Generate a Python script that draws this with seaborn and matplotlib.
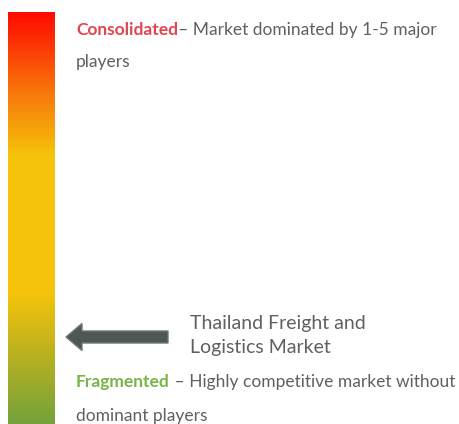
import numpy as np
import pandas as pd
import matplotlib
matplotlib.use("Agg")
import matplotlib.pyplot as plt
import seaborn as sns
from matplotlib.colors import LinearSegmentedColormap
from matplotlib.patches import FancyArrow

sns.set_theme(style="white")
plt.rcParams['font.family'] = ['Lato', 'DejaVu Sans']

# Gradient stops (top -> bottom)
grad_positions = [0.0, 0.2, 0.35, 0.68, 0.8, 1.0]
grad_colors = ["#FF0A00", "#F77A0A", "#F5C40A", "#F5C40A", "#C7B41C", "#74A23A"]

title_top_bold = "Consolidated"
title_top_rest = "– Market dominated by 1-5 major"
title_top_line2 = "players"
market_label = ["Thailand Freight and", "Logistics Market"]
title_bot_bold = "Fragmented"
title_bot_rest = " – Highly competitive market without"
title_bot_line2 = "dominant players"

W, H = 460, 424
fig = plt.figure(figsize=(W / 100, H / 100), dpi=100)
fig.patch.set_facecolor("white")

# Gradient bar via seaborn heatmap
bar_ax = fig.add_axes([8 / W, 0, 47 / W, 412 / H])
cmap = LinearSegmentedColormap.from_list("grad", list(zip(grad_positions, grad_colors)))
grad = pd.DataFrame({"v": np.linspace(0, 1, 400)})
sns.heatmap(grad, ax=bar_ax, cmap=cmap, cbar=False, xticklabels=False,
            yticklabels=False, vmin=0, vmax=1)
bar_ax.set_axis_off()

# Overlay axes in pixel coordinates
ax = fig.add_axes([0, 0, 1, 1])
ax.set_xlim(0, W)
ax.set_ylim(H, 0)
ax.set_axis_off()
ax.patch.set_alpha(0)

gray = "#606060"
red = "#E04550"
green = "#79B448"
fs = 12.5

renderer = fig.canvas.get_renderer()

def two_part(x, y, bold, rest, color):
    t1 = ax.text(x, y, bold, fontsize=fs, fontweight="bold", color=color,
                 va="center", ha="left")
    bb = t1.get_window_extent(renderer=renderer)
    x_end = ax.transData.inverted().transform((bb.x1, bb.y0))[0]
    ax.text(x_end, y, rest, fontsize=fs, color=gray, va="center", ha="left")

two_part(76, 30, title_top_bold, title_top_rest, red)
ax.text(76, 62, title_top_line2, fontsize=fs, color=gray, va="center", ha="left")

two_part(76, 382, title_bot_bold, title_bot_rest, green)
ax.text(76, 416, title_bot_line2, fontsize=fs, color=gray, va="center", ha="left")

ax.text(190, 323, market_label[0], fontsize=14, color=gray, va="center", ha="left")
ax.text(190, 348, market_label[1], fontsize=14, color=gray, va="center", ha="left")

arrow = FancyArrow(168, 337, -102, 0, width=12, head_width=27, head_length=16,
                   length_includes_head=True, facecolor="#4F5656",
                   edgecolor="#6E7878", linewidth=1)
ax.add_patch(arrow)

fig.savefig("out.png", dpi=100, facecolor="white")
